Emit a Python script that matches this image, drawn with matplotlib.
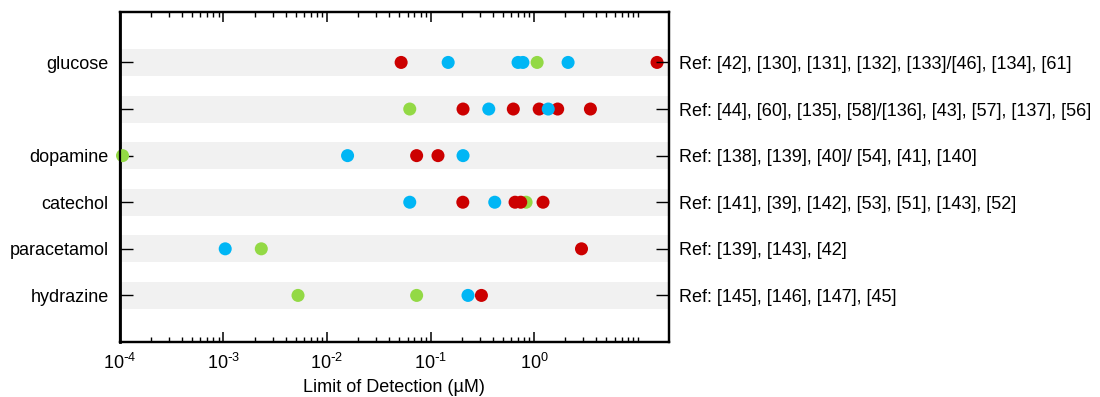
#!/usr/bin/env python3

import math

import matplotlib
matplotlib.use("Agg")
import matplotlib.pyplot as plt
from matplotlib.ticker import FixedLocator, FuncFormatter, NullFormatter

plt.rcParams['font.family'] = ['Liberation Sans', 'DejaVu Sans']
plt.rcParams['mathtext.default'] = 'regular'

# Data (LOD in uM), listed in drawing order for each analyte
ANALYTES = ['glucose', '', 'dopamine', 'catechol', 'paracetamol', 'hydrazine']
REFS = [
    'Ref: [42], [130], [131], [132], [133]/[46], [134], [61]',
    'Ref: [44], [60], [135], [58]/[136], [43], [57], [137], [56]',
    'Ref: [138], [139], [40]/ [54], [41], [140]',
    'Ref: [141], [39], [142], [53], [51], [143], [52]',
    'Ref: [139], [143], [42]',
    'Ref: [145], [146], [147], [45]',
]
XTICKS = [1e-4, 1e-3, 1e-2, 1e-1, 1e0]

GLUCOSE_LOD = [0.052, 0.148, 0.70, 0.78, 1.07, 2.13, 15.4]
GLUCOSE_KIND = ['red', 'blue', 'blue', 'blue', 'green', 'blue', 'red']

ROW2_LOD = [0.063, 0.206, 0.365, 0.63, 1.12, 1.69, 3.50, 1.37]
ROW2_KIND = ['green', 'red', 'blue', 'red', 'red', 'red', 'red', 'blue']

DOPAMINE_LOD = [1.06e-4, 0.0158, 0.0734, 0.118, 0.206]
DOPAMINE_KIND = ['green', 'blue', 'red', 'red', 'blue']

CATECHOL_LOD = [0.837, 0.063, 0.205, 0.417, 0.655, 0.743, 1.22]
CATECHOL_KIND = ['green', 'blue', 'red', 'blue', 'red', 'red', 'red']

PARACETAMOL_LOD = [1.04e-3, 2.32e-3, 2.87]
PARACETAMOL_KIND = ['blue', 'green', 'red']

HYDRAZINE_LOD = [5.25e-3, 0.0734, 0.230, 0.31]
HYDRAZINE_KIND = ['green', 'green', 'blue', 'red']

COLORS = {'red': '#cc0000', 'blue': '#00b6f5', 'green': '#93d945'}


def pow10_label(v, pos):
    # plain hyphen in the exponent, like the original figure
    e = int(round(math.log10(v)))
    if e < 0:
        return r'$\mathdefault{10^{\text{-}%d}}$' % (-e)
    return r'$\mathdefault{10^{%d}}$' % e


def main() -> None:
    rows = [
        (GLUCOSE_LOD, GLUCOSE_KIND),
        (ROW2_LOD, ROW2_KIND),
        (DOPAMINE_LOD, DOPAMINE_KIND),
        (CATECHOL_LOD, CATECHOL_KIND),
        (PARACETAMOL_LOD, PARACETAMOL_KIND),
        (HYDRAZINE_LOD, HYDRAZINE_KIND),
    ]
    n = len(rows)
    ypos = [n - i for i in range(n)]

    fig = plt.figure(figsize=(11, 3.97), dpi=100)
    ax = fig.add_axes([0.109, 0.1385, 0.499, 0.831])

    for y, (vals, kinds) in zip(ypos, rows):
        ax.axhspan(y - 0.29, y + 0.29, color='#f1f1f1', zorder=0, lw=0)
        for v, k in zip(vals, kinds):
            ax.scatter([v], [y], s=88, color=COLORS[k], edgecolors='none',
                       zorder=3, clip_on=False)

    ax.set_xscale('log')
    ax.set_xlim(1e-4, 20)
    ax.set_ylim(0, 7.08)

    ax.xaxis.set_major_locator(FixedLocator(XTICKS))
    ax.xaxis.set_major_formatter(FuncFormatter(pow10_label))
    minors = [m * 10.0 ** e for e in range(-4, 1) for m in range(2, 10)] + [10.0]
    ax.xaxis.set_minor_locator(FixedLocator(minors))
    ax.xaxis.set_minor_formatter(NullFormatter())
    ax.tick_params(axis='x', which='major', direction='in', top=True,
                   length=7, width=1.1, labelsize=13, pad=8)
    ax.tick_params(axis='x', which='minor', direction='in', top=True,
                   length=3.5, width=1.0)
    ax.set_xlabel('Limit of Detection (µM)', fontsize=13, labelpad=4)

    ax.set_yticks(ypos)
    ax.set_yticklabels(ANALYTES, fontsize=13)
    ax.tick_params(axis='y', direction='in', length=9.5, width=1.0, pad=8)

    ax2 = ax.twinx()
    ax2.set_ylim(ax.get_ylim())
    ax2.set_yticks(ypos)
    ax2.set_yticklabels(REFS, fontsize=13)
    ax2.tick_params(axis='y', direction='in', length=9.5, width=1.0, pad=7)

    for a in (ax, ax2):
        for side in a.spines.values():
            side.set_linewidth(1.6)
    ax.spines['left'].set_linewidth(2.0)

    fig.savefig('out.png', dpi=100)
    plt.close(fig)


if __name__ == "__main__":
    main()
